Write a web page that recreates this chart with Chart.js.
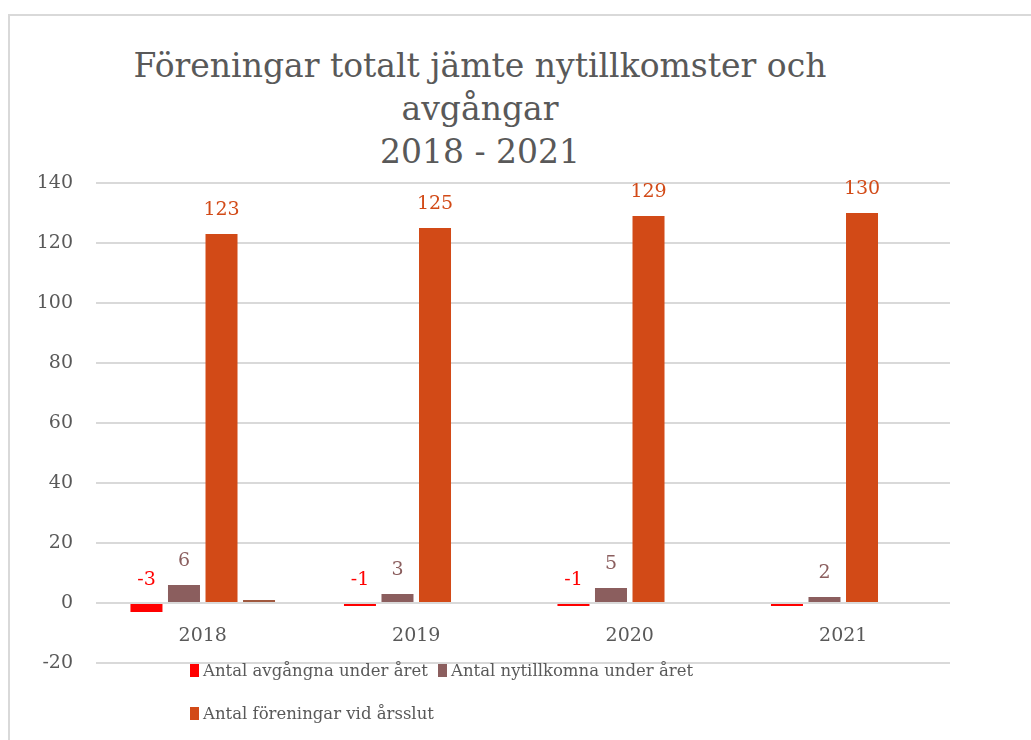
<!DOCTYPE html>
<html>
<head>
<meta charset="utf-8">
<script src="https://cdn.jsdelivr.net/npm/chart.js@4.4.0/dist/chart.umd.min.js"></script>
<style>
	html, body { margin: 0; padding: 0; background: #fff; }
	#wrap { position: relative; width: 1031px; height: 740px; overflow: hidden; font-family: "DejaVu Serif", serif; color: #595959; }
	#frame { position: absolute; left: 8px; top: 14px; width: 1100px; height: 800px; border-left: 2px solid #d9d9d9; border-top: 2px solid #d9d9d9; }
	#title { position: absolute; left: 30px; width: 900px; top: 44px; text-align: center; font-size: 33px; line-height: 43px; color: #595959; }
	#chart { position: absolute; left: 0; top: 0; }
	.leg { position: absolute; font-size: 16.5px; color: #595959; white-space: nowrap; line-height: 20px; }
	.leg span { display: inline-block; width: 9px; height: 13px; margin-right: 4px; vertical-align: -1px; }
</style>
</head>
<body>
<div id="wrap">
	<div id="frame"></div>
	<div id="title">Föreningar totalt jämte nytillkomster och<br>avgångar<br>2018 - 2021</div>
	<canvas id="chart" width="1031" height="740"></canvas>
	<div id="legend"></div>
</div>
<script>
const years = ["2018", "2019", "2020", "2021"];
const avgangna = [-3, -1, -1, -1];
const nytillkomna = [6, 3, 5, 2];
const foreningar = [123, 125, 129, 130];
const ovrigt = [1, null, null, null];
const avgangnaLabels = [true, true, true, false];
const yTicks = [-20, 0, 20, 40, 60, 80, 100, 120, 140];

const RED = "#ff0000";
const BROWN = "#8b5e5e";
const ORANGE = "#d24a17";

const valueLabels = {
	id: "valueLabels",
	afterDatasetsDraw(chart) {
		const ctx = chart.ctx;
		ctx.save();
		ctx.font = "19px 'DejaVu Serif'";
		ctx.textAlign = "center";
		ctx.textBaseline = "middle";
		chart.data.datasets.forEach((ds, i) => {
			if (!ds.showLabels) return;
			const meta = chart.getDatasetMeta(i);
			meta.data.forEach((bar, j) => {
				if (ds.data[j] == null || !ds.showLabels[j]) return;
				ctx.fillStyle = ds.backgroundColor;
				ctx.fillText(ds.data[j], bar.x, Math.min(bar.y, bar.base) - 24);
			});
		});
		ctx.restore();
	}
};

new Chart(document.getElementById("chart"), {
	type: "bar",
	data: {
		labels: years,
		datasets: [
			{ label: "Antal avgångna under året", data: avgangna, backgroundColor: RED, showLabels: avgangnaLabels },
			{ label: "Antal nytillkomna under året", data: nytillkomna, backgroundColor: BROWN, showLabels: [true, true, true, true] },
			{ label: "Antal föreningar vid årsslut", data: foreningar, backgroundColor: ORANGE, showLabels: [true, true, true, true] },
			{ label: "", data: ovrigt, backgroundColor: "#a0593f" },
		],
	},
	options: {
		responsive: false,
		animation: false,
		layout: { padding: { left: 0, right: 81, top: 183, bottom: 77 } },
		datasets: { bar: { categoryPercentage: 0.703, barPercentage: 0.853 } },
		plugins: {
			legend: { display: false },
			title: { display: false },
			tooltip: { enabled: false },
		},
		scales: {
			x: {
				position: { y: 0 },
				grid: { display: false },
				border: { display: false },
				ticks: { color: "#595959", padding: 14, font: { family: "DejaVu Serif", size: 19 } },
			},
			y: {
				min: -20,
				max: 140,
				afterFit: scale => { scale.width = 96; },
				afterBuildTicks: scale => { scale.ticks = yTicks.map(v => ({ value: v })); },
				grid: { color: "#d9d9d9", lineWidth: 2, drawTicks: false },
				border: { display: false },
				ticks: { color: "#595959", padding: 23, font: { family: "DejaVu Serif", size: 19 } },
			},
		},
	},
	plugins: [valueLabels],
});

// legend, laid out like the original
const legendItems = [
	{ text: "Antal avgångna under året", color: RED, x: 190, y: 661 },
	{ text: "Antal nytillkomna under året", color: BROWN, x: 438, y: 661 },
	{ text: "Antal föreningar vid årsslut", color: ORANGE, x: 190, y: 704 },
];
const legend = document.getElementById("legend");
legendItems.forEach(item => {
	const el = document.createElement("div");
	el.className = "leg";
	el.style.left = item.x + "px";
	el.style.top = item.y + "px";
	el.innerHTML = `<span style="background:${item.color}"></span>${item.text}`;
	legend.appendChild(el);
});
</script>
</body>
</html>
